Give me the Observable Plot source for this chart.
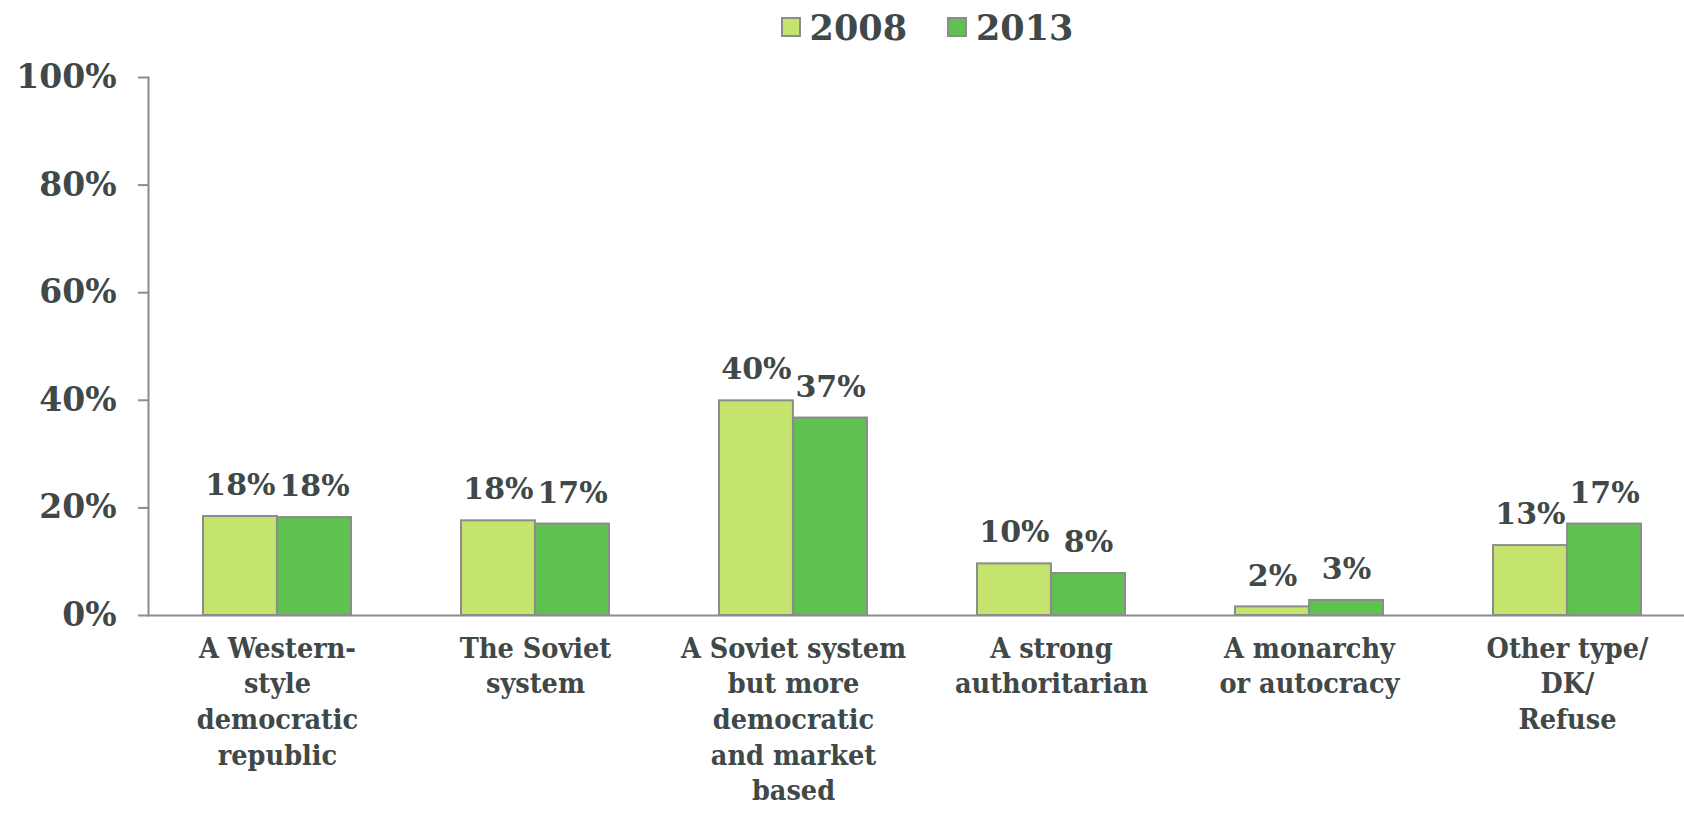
<!DOCTYPE html>
<html><head><meta charset="utf-8">
<script src="https://cdn.jsdelivr.net/npm/d3@7"></script>
<script src="https://cdn.jsdelivr.net/npm/@observablehq/plot@0.6"></script>
<style>
body{margin:0;background:#fff;}
#legend{height:54px;display:flex;align-items:center;justify-content:center;padding-left:170px;box-sizing:border-box;width:1684px;font-family:"DejaVu Serif",serif;font-weight:bold;font-size:35px;color:#404848;}
.sw{width:16px;height:16px;border:2px solid #8c8c8c;margin-right:9px;}
.item{display:flex;align-items:center;margin:0 20px;}
</style></head><body>
<div id="legend"></div>
<div id="chart"></div>
<script>
const categories = ["western","soviet","sovietplus","authoritarian","monarchy","other"];
const categoryLabels = [
  "A Western-\nstyle\ndemocratic\nrepublic",
  "The Soviet\nsystem",
  "A Soviet system\nbut more\ndemocratic\nand market\nbased",
  "A strong\nauthoritarian",
  "A monarchy\nor autocracy",
  "Other type/\nDK/\nRefuse"
];
const years = ["2008", "2013"];
const values2008 = [18.4, 17.6, 39.9, 9.6, 1.6, 13.0];
const values2013 = [18.2, 17.0, 36.7, 7.8, 2.8, 17.0];
const labels2008 = ["18%", "18%", "40%", "10%", "2%", "13%"];
const labels2013 = ["18%", "17%", "37%", "8%", "3%", "17%"];
const yTicks = [0, 20, 40, 60, 80, 100];
const colors = ["#c5e46e", "#5fc150"];
const textColor = "#404848";
const grey = "#8c8c8c";

const legend = document.getElementById("legend");
years.forEach((y, i) => {
  const it = document.createElement("div"); it.className = "item";
  const sw = document.createElement("div"); sw.className = "sw"; sw.style.background = colors[i];
  const t = document.createElement("span"); t.textContent = y;
  it.appendChild(sw); it.appendChild(t); legend.appendChild(it);
});

const d2008 = categories.map((c, i) => ({cat: c, value: values2008[i], label: labels2008[i]}));
const d2013 = categories.map((c, i) => ({cat: c, value: values2013[i], label: labels2013[i]}));
const labelMap = new Map(categories.map((c, i) => [c, categoryLabels[i]]));

const width = 1684, height = 760, marginLeft = 148, marginRight = -13, marginTop = 23, marginBottom = 199;
const paddingInner = 0.426, paddingOuter = 0.213;
const step = (width - marginLeft - marginRight) / categories.length;
const bw = step * (1 - paddingInner);

const chart = Plot.plot({
  width, height, marginLeft, marginRight, marginTop, marginBottom,
  style: {fontFamily: "DejaVu Serif, serif", fontWeight: "bold", color: textColor, background: "white"},
  x: {domain: categories, paddingInner, paddingOuter, label: null, axis: null},
  y: {domain: [0, 100], label: null, axis: null},
  marks: [
    Plot.barY(d2008, {x: "cat", y: "value", fill: colors[0], stroke: grey, strokeWidth: 2, insetRight: bw / 2}),
    Plot.barY(d2013, {x: "cat", y: "value", fill: colors[1], stroke: grey, strokeWidth: 2, insetLeft: bw / 2}),
    Plot.text(d2008, {x: "cat", y: "value", text: "label", dx: -bw / 4, dy: -31, fontSize: 30, fontWeight: "bold", fill: textColor}),
    Plot.text(d2013, {x: "cat", y: "value", text: "label", dx: bw / 4, dy: -31, fontSize: 30, fontWeight: "bold", fill: textColor}),
    Plot.frame({anchor: "left", stroke: grey, strokeWidth: 2}),
    Plot.ruleY([0], {stroke: grey, strokeWidth: 2}),
    Plot.axisY(yTicks, {tickFormat: d => d + "%", tickSize: 10, tickPadding: 22, fontSize: 33, stroke: grey, strokeWidth: 2, fill: textColor, label: null}),
    Plot.axisX({tickSize: 0, tickPadding: 17, tickFormat: d => labelMap.get(d), fontSize: 28.5, lineHeight: 1.25, fontFamily: "DejaVu Serif Condensed", fill: textColor, label: null})
  ]
});
document.getElementById("chart").appendChild(chart);
</script>
</body></html>
